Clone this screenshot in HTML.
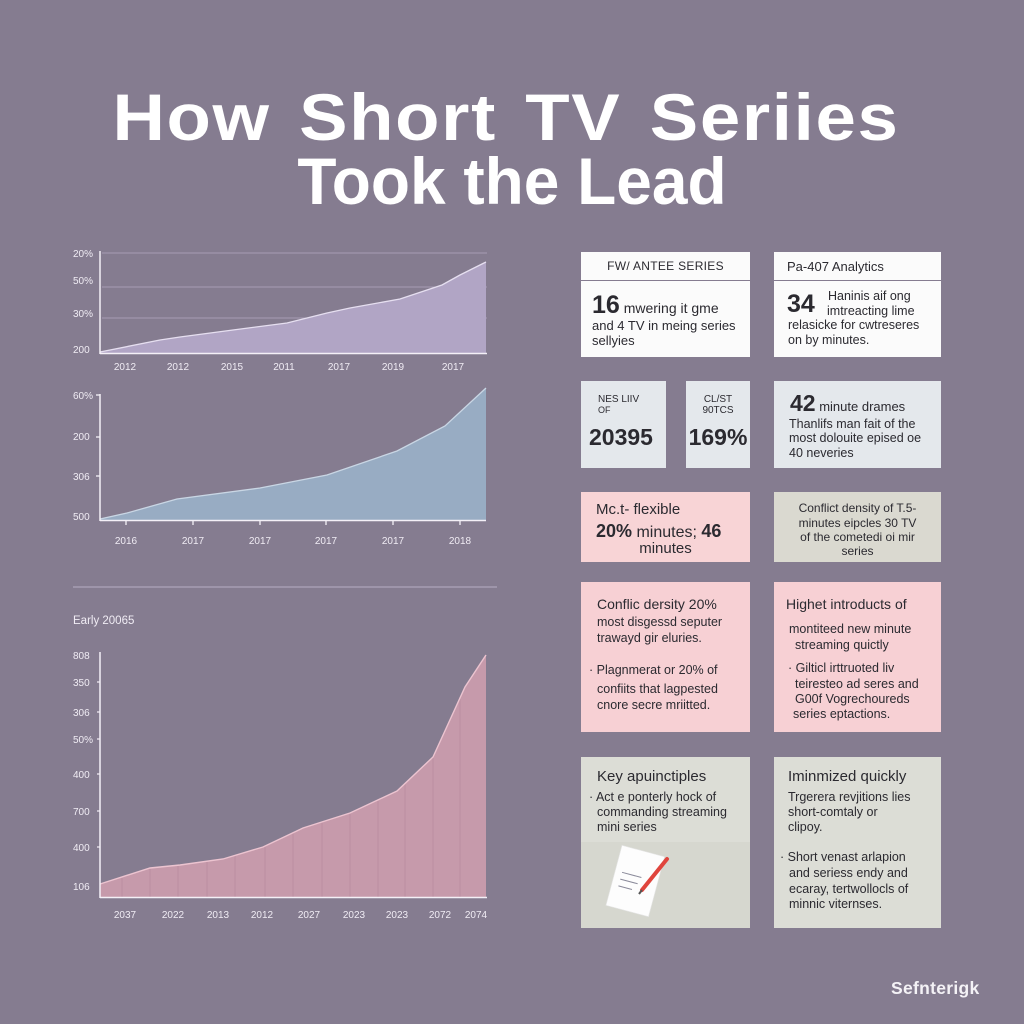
<!DOCTYPE html>
<html><head><meta charset="utf-8">
<style>
html,body{margin:0;padding:0}
body{width:1024px;height:1024px;background:#857c90;position:relative;overflow:hidden;font-family:"Liberation Sans",sans-serif;color:#2b2a30}
.t{position:absolute;white-space:nowrap}
.p{position:absolute}
.title{position:absolute;left:0;width:1024px;text-align:center;color:#fff;font-weight:bold;font-size:66px;line-height:1;white-space:nowrap}
svg{position:absolute;left:0;top:0}
.ax{font-family:"Liberation Sans",sans-serif;font-size:10px;fill:#f0ecf4}
.s13{font-size:13px}
.s12{font-size:12.5px}
.b{font-weight:bold}
</style></head><body>
<div class="title" style="top:84px;left:-6px;letter-spacing:1.5px;word-spacing:6px;transform:scaleX(1.1);transform-origin:512px 0">How Short TV Seriies</div>
<div class="title" style="top:148px;transform:scaleX(0.97);transform-origin:512px 0">Took the Lead</div>

<svg width="1024" height="1024" viewBox="0 0 1024 1024">
 <!-- chart 1 -->
 <line x1="102" y1="253" x2="487" y2="253" stroke="#a89cb5" stroke-width="1"/>
 <line x1="102" y1="287" x2="487" y2="287" stroke="#a89cb5" stroke-width="1"/>
 <line x1="102" y1="318" x2="487" y2="318" stroke="#a89cb5" stroke-width="1"/>
 <polygon points="100,352 160,340 180,337 233,330 287,323 327,313 350,308 400,299 442,285 460,275 486,262 486,353 100,353" fill="#b1a5c5"/>
 <polyline points="100,352 160,340 180,337 233,330 287,323 327,313 350,308 400,299 442,285 460,275 486,262" fill="none" stroke="#e6dff0" stroke-width="1.3"/>
 <line x1="100" y1="251" x2="100" y2="354" stroke="#f4f0f7" stroke-width="1.5"/>
 <line x1="100" y1="353.5" x2="487" y2="353.5" stroke="#f4f0f7" stroke-width="1.5"/>
 <text class="ax" x="73" y="257">20%</text>
 <text class="ax" x="73" y="284">50%</text>
 <text class="ax" x="73" y="317">30%</text>
 <text class="ax" x="73" y="353">200</text>
 <g class="ax" text-anchor="middle">
  <text x="125" y="370">2012</text><text x="178" y="370">2012</text><text x="232" y="370">2015</text>
  <text x="284" y="370">2011</text><text x="339" y="370">2017</text><text x="393" y="370">2019</text><text x="453" y="370">2017</text>
 </g>

 <!-- chart 2 -->
 <polygon points="100,519 127,513 177,499 260,488 327,475 397,451 445,426 486,388 486,520 100,520" fill="#98acc3"/>
 <polyline points="100,519 127,513 177,499 260,488 327,475 397,451 445,426 486,388" fill="none" stroke="#c9d6e4" stroke-width="1.3"/>
 <line x1="100" y1="394" x2="100" y2="521" stroke="#f4f0f7" stroke-width="1.5"/>
 <line x1="100" y1="520.5" x2="486" y2="520.5" stroke="#f4f0f7" stroke-width="1.5"/>
 <g stroke="#f4f0f7" stroke-width="1.3">
  <line x1="96" y1="395" x2="100" y2="395"/><line x1="96" y1="437" x2="100" y2="437"/>
  <line x1="96" y1="476" x2="100" y2="476"/>
  <line x1="126" y1="520" x2="126" y2="525"/><line x1="193" y1="520" x2="193" y2="525"/><line x1="260" y1="520" x2="260" y2="525"/>
  <line x1="326" y1="520" x2="326" y2="525"/><line x1="393" y1="520" x2="393" y2="525"/><line x1="460" y1="520" x2="460" y2="525"/>
 </g>
 <text class="ax" x="73" y="399">60%</text>
 <text class="ax" x="73" y="440">200</text>
 <text class="ax" x="73" y="480">306</text>
 <text class="ax" x="73" y="520">500</text>
 <g class="ax" text-anchor="middle">
  <text x="126" y="544">2016</text><text x="193" y="544">2017</text><text x="260" y="544">2017</text>
  <text x="326" y="544">2017</text><text x="393" y="544">2017</text><text x="460" y="544">2018</text>
 </g>

 <!-- divider -->
 <line x1="73" y1="587" x2="497" y2="587" stroke="#b8aec4" stroke-width="1"/>
 <text x="73" y="624" font-family="Liberation Sans,sans-serif" font-size="11.5" fill="#f0ecf4">Early 20065</text>

 <!-- chart 3 -->
 <polygon points="100,884 150,868 180,865 223,859 263,847 303,828 350,813 397,791 433,757 465,687 486,655 486,897 100,897" fill="#c69aab"/>
 <g stroke="#b98d9f" stroke-width="0.8">
  <line x1="122" y1="878" x2="122" y2="897"/><line x1="150" y1="868" x2="150" y2="897"/><line x1="178" y1="865" x2="178" y2="897"/>
  <line x1="207" y1="861" x2="207" y2="897"/><line x1="235" y1="856" x2="235" y2="897"/><line x1="265" y1="846" x2="265" y2="897"/>
  <line x1="293" y1="833" x2="293" y2="897"/><line x1="322" y1="822" x2="322" y2="897"/><line x1="350" y1="813" x2="350" y2="897"/>
  <line x1="378" y1="801" x2="378" y2="897"/><line x1="405" y1="784" x2="405" y2="897"/><line x1="433" y1="757" x2="433" y2="897"/>
  <line x1="460" y1="698" x2="460" y2="897"/>
 </g>
 <polyline points="100,884 150,868 180,865 223,859 263,847 303,828 350,813 397,791 433,757 465,687 486,655" fill="none" stroke="#ecc4d0" stroke-width="1.4"/>
 <line x1="100" y1="652" x2="100" y2="898" stroke="#f4f0f7" stroke-width="1.5"/>
 <line x1="100" y1="897.5" x2="487" y2="897.5" stroke="#f4f0f7" stroke-width="1.5"/>
 <g stroke="#f4f0f7" stroke-width="1.2">
  <line x1="97" y1="682" x2="100" y2="682"/><line x1="97" y1="712" x2="100" y2="712"/><line x1="97" y1="739" x2="100" y2="739"/>
  <line x1="97" y1="774" x2="100" y2="774"/><line x1="97" y1="811" x2="100" y2="811"/><line x1="97" y1="847" x2="100" y2="847"/>
 </g>
 <text class="ax" x="73" y="659">808</text>
 <text class="ax" x="73" y="686">350</text>
 <text class="ax" x="73" y="716">306</text>
 <text class="ax" x="73" y="743">50%</text>
 <text class="ax" x="73" y="778">400</text>
 <text class="ax" x="73" y="815">700</text>
 <text class="ax" x="73" y="851">400</text>
 <text class="ax" x="73" y="890">106</text>
 <g class="ax" text-anchor="middle">
  <text x="125" y="918">2037</text><text x="173" y="918">2022</text><text x="218" y="918">2013</text>
  <text x="262" y="918">2012</text><text x="309" y="918">2027</text><text x="354" y="918">2023</text>
  <text x="397" y="918">2023</text><text x="440" y="918">2072</text><text x="476" y="918">2074</text>
 </g>
</svg>

<!-- Row 1 -->
<div class="p" style="left:581px;top:252px;width:169px;height:28px;background:#fbfbfb"></div>
<div class="p" style="left:581px;top:281px;width:169px;height:76px;background:#fbfbfb"></div>
<div class="t s12" style="left:581px;top:259px;width:169px;text-align:center;font-size:12px;letter-spacing:0.3px">FW/ ANTEE SERIES</div>
<div class="t" style="left:592px;top:291px;font-size:14px"><span class="b" style="font-size:25px">16</span> mwering it gme</div>
<div class="t s13" style="left:592px;top:318px">and 4 TV in meing series</div>
<div class="t s13" style="left:592px;top:333px">sellyies</div>

<div class="p" style="left:774px;top:252px;width:167px;height:28px;background:#fbfbfb"></div>
<div class="p" style="left:774px;top:281px;width:167px;height:76px;background:#fbfbfb"></div>
<div class="t s13" style="left:787px;top:259px">Pa-407 Analytics</div>
<div class="t b" style="left:787px;top:290px;font-size:25px">34</div>
<div class="t s12" style="left:828px;top:289px">Haninis aif ong</div>
<div class="t s12" style="left:827px;top:304px">imtreacting lime</div>
<div class="t s12" style="left:788px;top:318px">relasicke for cwtreseres</div>
<div class="t s12" style="left:788px;top:333px">on by minutes.</div>

<!-- Row 2 -->
<div class="p" style="left:581px;top:381px;width:85px;height:87px;background:#e4e8ec"></div>
<div class="t" style="left:598px;top:394px;font-size:10px">NES LIIV</div>
<div class="t" style="left:598px;top:405px;font-size:9px">OF</div>
<div class="t b" style="left:589px;top:424px;font-size:23px">20395</div>

<div class="p" style="left:686px;top:381px;width:64px;height:87px;background:#e4e8ec"></div>
<div class="t" style="left:686px;top:394px;width:64px;text-align:center;font-size:10px">CL/ST</div>
<div class="t" style="left:686px;top:405px;width:64px;text-align:center;font-size:10px">90TCS</div>
<div class="t b" style="left:686px;top:424px;width:64px;text-align:center;font-size:23px">169%</div>

<div class="p" style="left:774px;top:381px;width:167px;height:87px;background:#e4e8ec"></div>
<div class="t" style="left:790px;top:390px;font-size:13px"><span class="b" style="font-size:23px">42</span> minute drames</div>
<div class="t s12" style="left:789px;top:417px">Thanlifs man fait of the</div>
<div class="t s12" style="left:789px;top:431px">most dolouite epised oe</div>
<div class="t s12" style="left:789px;top:446px">40 neveries</div>

<!-- Row 3 -->
<div class="p" style="left:581px;top:492px;width:169px;height:70px;background:#f8d4d6"></div>
<div class="t" style="left:596px;top:501px;font-size:15px">Mc.t- flexible</div>
<div class="t" style="left:596px;top:521px;font-size:16px"><span class="b" style="font-size:18px">20%</span> minutes; <span class="b" style="font-size:18px">46</span></div>
<div class="t" style="left:581px;top:540px;width:169px;text-align:center;font-size:15px">minutes</div>

<div class="p" style="left:774px;top:492px;width:167px;height:70px;background:#dad9d0"></div>
<div class="t s12" style="left:774px;top:501px;width:167px;text-align:center;font-size:12px">Conflict density of T.5-</div>
<div class="t s12" style="left:774px;top:516px;width:167px;text-align:center;font-size:12px">minutes eipcles 30 TV</div>
<div class="t s12" style="left:774px;top:530px;width:167px;text-align:center;font-size:12px">of the cometedi oi mir</div>
<div class="t s12" style="left:774px;top:544px;width:167px;text-align:center;font-size:12px">series</div>

<!-- Row 4 -->
<div class="p" style="left:581px;top:582px;width:169px;height:150px;background:#f7d0d4"></div>
<div class="t" style="left:597px;top:596px;font-size:14px">Conflic dersity 20%</div>
<div class="t s12" style="left:597px;top:615px">most disgessd seputer</div>
<div class="t s12" style="left:597px;top:631px">trawayd gir eluries.</div>
<div class="t s12" style="left:589px;top:663px">· Plagnmerat or 20% of</div>
<div class="t s12" style="left:597px;top:682px">confiits that lagpested</div>
<div class="t s12" style="left:597px;top:698px">cnore secre mriitted.</div>

<div class="p" style="left:774px;top:582px;width:167px;height:150px;background:#f7d0d4"></div>
<div class="t" style="left:786px;top:596px;font-size:14px">Highet introducts of</div>
<div class="t s12" style="left:789px;top:622px">montiteed new minute</div>
<div class="t s12" style="left:795px;top:638px">streaming quictly</div>
<div class="t s12" style="left:788px;top:661px">· Gilticl irttruoted liv</div>
<div class="t s12" style="left:795px;top:677px">teiresteo ad seres and</div>
<div class="t s12" style="left:795px;top:692px">G00f Vogrechoureds</div>
<div class="t s12" style="left:793px;top:707px">series eptactions.</div>

<!-- Row 5 -->
<div class="p" style="left:581px;top:757px;width:169px;height:171px;background:#dcddd6"></div>
<div class="p" style="left:581px;top:842px;width:169px;height:86px;background:#d6d7cf"></div>
<div class="t" style="left:597px;top:768px;font-size:15px">Key apuinctiples</div>
<div class="t s12" style="left:589px;top:790px">· Act e ponterly hock of</div>
<div class="t s12" style="left:597px;top:805px">commanding streaming</div>
<div class="t s12" style="left:597px;top:820px">mini series</div>
<svg width="1024" height="1024" viewBox="0 0 1024 1024" style="pointer-events:none">
 <g transform="rotate(15 635 882)">
  <rect x="613" y="850" width="44" height="62" fill="#fdfdfd" stroke="#e6e6e6" stroke-width="0.6"/>
  <line x1="620" y1="876" x2="640" y2="876" stroke="#8a8a9a" stroke-width="1"/>
  <line x1="620" y1="883" x2="638" y2="883" stroke="#8a8a9a" stroke-width="1"/>
  <line x1="620" y1="890" x2="634" y2="890" stroke="#8a8a9a" stroke-width="1"/>
 </g>
 <line x1="667" y1="859" x2="642" y2="890" stroke="#e0453d" stroke-width="4" stroke-linecap="round"/>
 <line x1="642" y1="890" x2="639" y2="894" stroke="#555" stroke-width="2"/>
</svg>

<div class="p" style="left:774px;top:757px;width:167px;height:171px;background:#dcddd6"></div>
<div class="t" style="left:788px;top:768px;font-size:15px">Iminmized quickly</div>
<div class="t s12" style="left:788px;top:790px">Trgerera revjitions lies</div>
<div class="t s12" style="left:788px;top:805px">short-comtaly or</div>
<div class="t s12" style="left:788px;top:820px">clipoy.</div>
<div class="t s12" style="left:780px;top:850px">· Short venast arlapion</div>
<div class="t s12" style="left:789px;top:866px">and seriess endy and</div>
<div class="t s12" style="left:789px;top:882px">ecaray, tertwollocls of</div>
<div class="t s12" style="left:789px;top:897px">minnic viternses.</div>

<div class="t b" style="left:891px;top:978px;font-size:17.5px;letter-spacing:0.3px;color:#f4f2f6">Sefnterigk</div>
</body></html>
